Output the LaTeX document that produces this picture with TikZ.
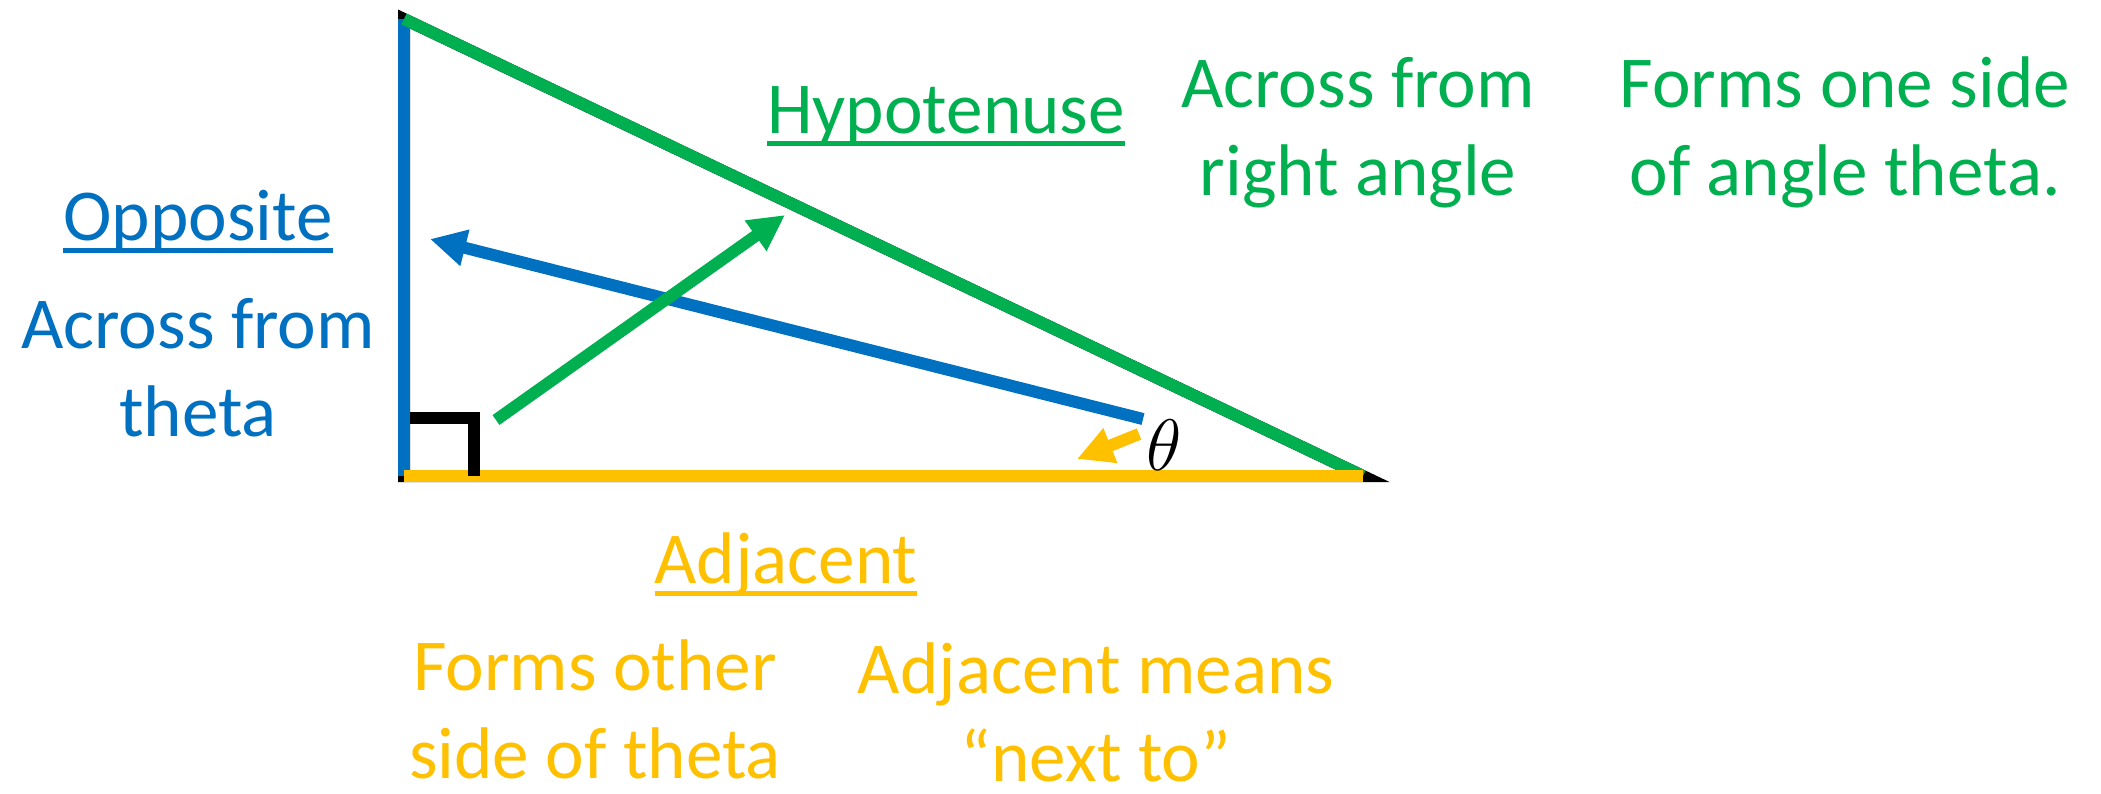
\documentclass[tikz,border=0pt]{standalone}
\usepackage{fontspec}
\setmainfont{Carlito}
\usepackage{tikz}
\usetikzlibrary{arrows.meta}
\definecolor{oppblue}{HTML}{0070C0}
\definecolor{hypgreen}{HTML}{00B050}
\definecolor{adjyellow}{HTML}{FFC000}
\newlength\ulwd
\newcommand\ulword[1]{\settowidth\ulwd{#1}\rlap{\rule[-0.18em]{\ulwd}{0.07em}}#1}
\tikzstyle{sidetext} = [font=\fontsize{20.8pt}{25pt}\selectfont, align=center,
                        inner sep=0pt, anchor=base]
\tikzstyle{sideline} = [line width=0.12cm, line cap=butt]
\tikzstyle{pointer}  = [line width=0.12cm, -{Triangle[length=0.36cm, width=0.35cm]}]

\begin{document}
\begin{tikzpicture}[x=0.01cm, y=-0.01cm]
  \useasboundingbox (0,0) rectangle (2101,793);

  % --- Triangle ---
  \coordinate (top)   at (404,19);
  \coordinate (right) at (404,476);
  \coordinate (theta) at (1363,476);
  \draw[line width=0.12cm, miter limit=10] (top) -- (right) -- (theta) -- cycle;
  \draw[sideline, oppblue]   (top)   -- (right);
  \draw[sideline, hypgreen]  (top)   -- (theta);
  \draw[sideline, adjyellow] (right) -- (theta);

  % right angle mark
  \coordinate (sq_a) at (410,418);
  \coordinate (sq_b) at (473.5,418);
  \coordinate (sq_c) at (473.5,476);
  \draw[line width=0.12cm, miter limit=10] (sq_a) -- (sq_b) -- (sq_c);

  \node (th) [inner sep=0pt, anchor=base, font=\fontsize{19.6pt}{24pt}\selectfont]
             at (1164,470) {$\theta$};

  % --- Arrows ---
  \coordinate (opp_from) at (1143,419);
  \coordinate (opp_to)   at (430,239);
  \coordinate (hyp_from) at (496,420);
  \coordinate (hyp_to)   at (785,215);
  \coordinate (adj_from) at (1139,434);
  \coordinate (adj_to)   at (1077,459);
  \draw[pointer, oppblue]   (opp_from) -- (opp_to);
  \draw[pointer, hypgreen]  (hyp_from) -- (hyp_to);
  \draw[pointer, adjyellow] (adj_from) -- (adj_to);

  % --- Opposite ---  (base = last line)
  \node (opp_lbl) [sidetext, oppblue] at (198,240) {\ulword{Opposite}};
  \node (opp_txt) [sidetext, oppblue] at (198,436) {Across from\\theta};

  % --- Hypotenuse ---
  \node (hyp_lbl)  [sidetext, hypgreen] at (946,133)  {\ulword{Hypotenuse}};
  \node (hyp_txt1) [sidetext, hypgreen] at (1358,195) {Across from\\right angle};
  \node (hyp_txt2) [sidetext, hypgreen] at (1845,195) {Forms one side\\of angle theta.};

  % --- Adjacent ---
  \node (adj_lbl)  [sidetext, adjyellow] at (786,583)  {\ulword{Adjacent}};
  \node (adj_txt1) [sidetext, adjyellow] at (595,778)  {Forms other\\side of theta};
  \node (adj_txt2) [sidetext, adjyellow] at (1096,781) {Adjacent means\\“next to”};

\end{tikzpicture}
\end{document}
